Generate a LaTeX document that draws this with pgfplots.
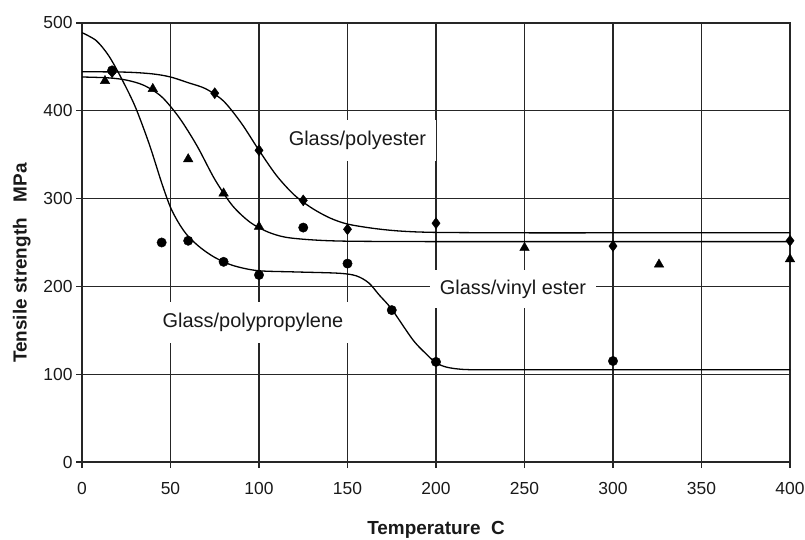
\documentclass[border=0pt]{standalone}
\usepackage{fontspec}
\setmainfont{Liberation Sans}
\usepackage{pgfplots}
\pgfplotsset{compat=1.18}
\definecolor{gridc}{HTML}{262626}
\begin{document}
\begin{tikzpicture}
\path[use as bounding box] (0,0) rectangle (805bp,540bp);
\begin{axis}[
  at={(82bp,78bp)}, anchor=south west,
  scale only axis, width=708bp, height=439bp,
  xmin=0, xmax=400, ymin=0, ymax=500,
  xtick={0,50,...,400}, ytick={0,100,...,500},
  xtick pos=left, ytick pos=left,
  grid=major,
  grid style={line width=1.2bp, gridc},
  axis line style={line width=1.2bp, gridc},
  tick style={line width=1.2bp, gridc},
  tick align=outside, major tick length=6bp,
  /pgf/number format/assume math mode=true,
  tick label style={font=\fontsize{17.5}{21}\selectfont, text=black!90},
  xticklabel style={yshift=-11bp},
  xlabel={Temperature\ \ C},
  ylabel={Tensile strength\ \ \ MPa},
  label style={font=\bfseries\fontsize{19}{23}\selectfont, text=black!90},
  xlabel style={at={(axis description cs:0.5,-0.155)}, anchor=center},
  ylabel style={at={(axis description cs:-0.085,0.453)}, anchor=center},
  clip=false,
]
% fitted curves
\addplot[black, line width=1.3bp, smooth, tension=0.5] coordinates {
 (0,444.5) (25,444) (40,442) (50,438.5) (60,432) (70,425) (80,411) (90,386) (100,355)
 (110,326) (120,304) (130,289) (140,278) (150,271) (165,266) (180,263) (200,261.5)
 (250,261) (300,261) (400,261)};
\addplot[black, line width=1.3bp, smooth, tension=0.5] coordinates {
 (0,438.5) (15,437.5) (25,435) (35,429) (45,416) (55,392) (65,360) (75,322) (85,292)
 (95,273) (105,262) (115,256) (130,253) (150,251.5) (200,251) (300,251) (400,251)};
\addplot[black, line width=1.3bp, smooth, tension=0.5] coordinates {
 (0,489) (8,480) (15,463) (22,438) (30,405) (38,362) (45,318) (50,290) (55,271) (60,257)
 (67,244) (75,233) (85,224) (99,218) (120,216.5) (145,215) (155,212) (162,204) (168,190)
 (175,174) (187,139) (195,122) (200,113) (206,108) (215,105.5) (230,105) (300,105) (400,105)};
% data points
\addplot[only marks, mark=diamond*, mark size=5.5bp, black] coordinates {
 (17,444) (75,420) (100,355) (125,298) (150,265) (200,272) (300,246) (400,252)};
\addplot[only marks, mark=triangle*, mark size=5.5bp, black] coordinates {
 (13,434) (40,425) (60,345) (80,306) (100,268) (250,244) (326,225) (400,231)};
\addplot[only marks, mark=*, mark size=4.7bp, black] coordinates {
 (17,446) (45,250) (60,252) (80,228) (100,213) (125,267) (150,226) (175,173) (200,114) (300,115)};
% labels
\node[fill=white, inner xsep=10bp, inner ysep=11bp, font=\fontsize{20}{24}\selectfont, text=black!90]
  at (axis cs:155.6,366) {Glass/polyester};
\node[fill=white, inner xsep=10bp, inner ysep=10bp, font=\fontsize{20}{24}\selectfont, text=black!90]
  at (axis cs:243.5,197) {Glass/vinyl ester};
\node[fill=white, inner xsep=10bp, inner ysep=11bp, font=\fontsize{20}{24}\selectfont, text=black!90]
  at (axis cs:96.6,159) {Glass/polypropylene};
\end{axis}
\end{tikzpicture}
\end{document}
